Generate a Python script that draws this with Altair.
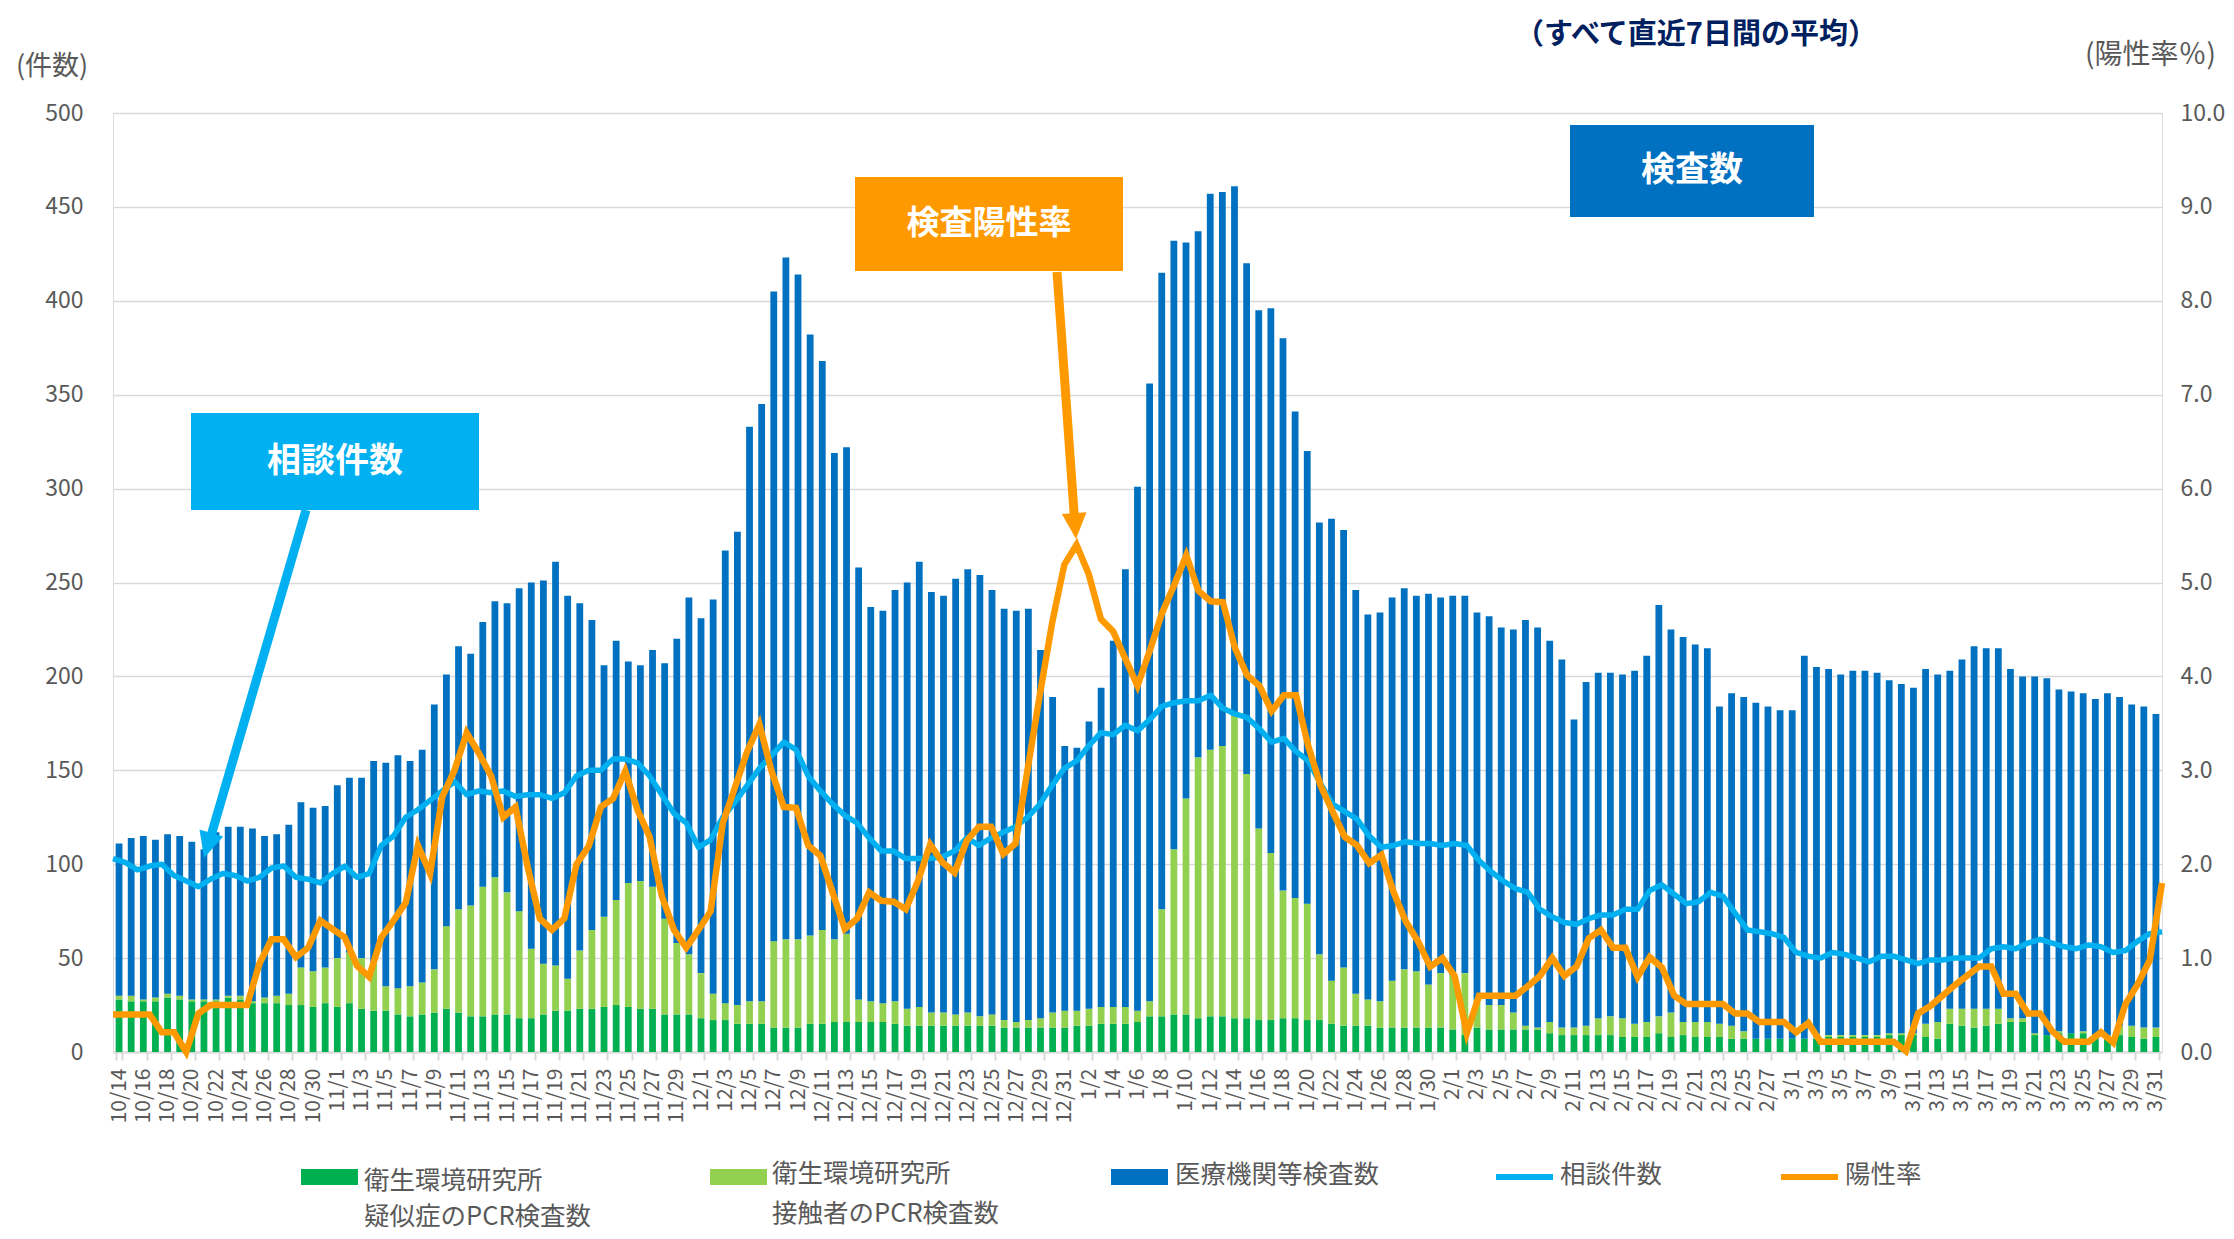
import altair as alt
import pandas as pd

FONT = "Noto Sans CJK JP"

# ---- categories (daily, 2020-10-14 .. 2021-03-31) ----
dates = [f"{d.month}/{d.day}" for d in pd.date_range("2020-10-14", "2021-03-31")]
tick_dates = dates[::2]

# ---- bar series (7-day averages, counts) ----
total = [
    111, 114, 115, 113, 116, 115, 112, 108, 117, 120, 120, 119, 115, 116, 121, 133, 130, 131, 142, 146, 146, 155, 154, 158, 155, 161, 185, 201, 216, 212, 229, 240,
    239, 247, 250, 251, 261, 243, 239, 230, 206, 219, 208, 206, 214, 207, 220, 242, 231, 241, 267, 277, 333, 345, 405, 423, 414, 382, 368, 319, 322, 258, 237,
    235, 246, 250, 261, 245, 243, 252, 257, 254, 246, 236, 235, 236, 214, 189, 163, 162, 176, 194, 219, 257, 301, 356, 415, 432, 431, 437, 457, 458, 461, 420,
    395, 396, 380, 341, 320, 282, 284, 278, 246, 233, 234, 242, 247, 243, 244, 242, 243, 243, 234, 232, 226, 225, 230, 226, 219, 209, 177, 197, 202, 202, 201, 203,
    211, 238, 225, 221, 217, 215, 184, 191, 189, 186, 184, 182, 182, 211, 205, 204, 201, 203, 203, 202, 198, 196, 194, 204, 201, 203, 209, 216, 215, 215, 204, 200,
    200, 199, 193, 192, 191, 188, 191, 189, 185, 184, 180,
]
suspected = [
    28, 27, 27, 27, 29, 28, 27, 27, 27, 29, 28, 26, 26, 26, 25, 25, 24, 26, 24, 26, 23, 22, 22, 20, 19, 20, 21, 23, 21, 19, 19, 20,
    20, 18, 18, 20, 22, 22, 23, 23, 24, 25, 24, 23, 23, 20, 20, 20, 18, 17, 17, 15, 15, 15, 13, 13, 13, 15, 15, 16, 16, 16, 16,
    16, 15, 14, 14, 14, 14, 14, 14, 14, 14, 13, 13, 13, 13, 13, 13, 14, 14, 15, 15, 15, 16, 19, 19, 20, 20, 18, 19, 19, 18, 18,
    17, 17, 18, 18, 17, 17, 15, 14, 14, 14, 13, 13, 13, 13, 13, 13, 12, 9, 13, 12, 12, 12, 12, 12, 10, 9, 9, 9, 9, 9, 8, 8,
    8, 10, 8, 9, 8, 8, 8, 7, 7, 7, 7, 7, 7, 7, 7, 8, 8, 8, 8, 8, 9, 9, 9, 8, 7, 15, 14, 13, 14, 15, 16, 16,
    9, 9, 10, 10, 10, 8, 8, 9, 8, 7, 8,
]
contact = [
    2, 3, 1, 2, 2, 2, 1, 1, 1, 1, 2, 1, 3, 4, 6, 20, 19, 19, 26, 27, 27, 26, 13, 14, 16, 17, 23, 44, 55, 59, 69, 73,
    65, 57, 37, 27, 24, 17, 31, 42, 48, 56, 66, 68, 65, 51, 38, 32, 24, 14, 9, 10, 12, 12, 46, 47, 47, 47, 50, 44, 47, 12, 11,
    10, 12, 9, 10, 7, 7, 6, 7, 5, 6, 4, 3, 4, 5, 8, 9, 8, 9, 9, 9, 9, 6, 8, 57, 88, 115, 139, 142, 144, 161, 130,
    102, 89, 68, 64, 62, 35, 23, 31, 17, 14, 14, 25, 31, 30, 23, 29, 29, 33, 15, 13, 13, 9, 2, 1, 6, 4, 4, 5, 9, 10, 10, 7,
    8, 9, 13, 7, 8, 8, 7, 7, 4, 0, 0, 0, 0, 0, 1, 1, 1, 1, 1, 1, 1, 1, 1, 7, 9, 8, 9, 10, 9, 8, 2, 2,
    1, 0, 1, 0, 1, 1, 1, 5, 6, 6, 5,
]
# ---- line series ----
consult = [
    103, 101, 97, 99, 100, 94, 91, 88, 92, 95, 94, 91, 93, 98, 99, 93, 92, 90, 95, 99, 93, 95, 110, 115, 125, 129, 134, 139, 144, 137, 139, 138,
    139, 136, 137, 137, 135, 138, 147, 150, 150, 156, 156, 154, 147, 137, 127, 122, 109, 113, 125, 133, 142, 151, 158, 165, 161, 147, 139, 132, 126, 122, 114,
    107, 107, 103, 103, 103, 104, 107, 114, 110, 114, 117, 120, 125, 132, 142, 151, 155, 163, 170, 169, 174, 171, 177, 184, 186, 187, 187, 190, 183, 180, 178,
    172, 165, 167, 160, 155, 143, 132, 128, 124, 115, 109, 110, 112, 111, 111, 110, 111, 110, 102, 96, 91, 87, 85, 76, 72, 69, 68, 71, 73, 73, 76, 76,
    86, 89, 84, 79, 80, 85, 83, 74, 65, 64, 63, 61, 53, 51, 50, 53, 52, 50, 48, 51, 51, 49, 47, 49, 49, 50, 50, 50, 55, 56,
    55, 58, 60, 58, 56, 55, 57, 56, 53, 54, 59, 63, 64,
]
rate = [
    0.40, 0.40, 0.40, 0.40, 0.21, 0.21, 0.00, 0.41, 0.50, 0.50, 0.50, 0.50, 0.94, 1.20, 1.20, 1.01, 1.11, 1.40, 1.31, 1.22, 0.92, 0.80, 1.22, 1.40, 1.59, 2.20, 1.90, 2.72, 3.00, 3.40, 3.18, 2.94,
    2.50, 2.61, 1.97, 1.42, 1.30, 1.42, 2.00, 2.19, 2.61, 2.70, 2.99, 2.58, 2.29, 1.66, 1.30, 1.11, 1.30, 1.50, 2.44, 2.82, 3.20, 3.49, 2.99, 2.61, 2.60, 2.20, 2.09, 1.70, 1.31, 1.42, 1.70,
    1.61, 1.60, 1.52, 1.82, 2.21, 2.02, 1.91, 2.25, 2.40, 2.40, 2.11, 2.22, 3.02, 3.81, 4.57, 5.19, 5.40, 5.09, 4.61, 4.48, 4.19, 3.90, 4.27, 4.67, 4.97, 5.29, 4.91, 4.80, 4.79, 4.30, 4.01,
    3.90, 3.63, 3.80, 3.80, 3.26, 2.84, 2.56, 2.29, 2.20, 2.01, 2.10, 1.70, 1.39, 1.18, 0.91, 1.00, 0.81, 0.20, 0.60, 0.60, 0.60, 0.60, 0.70, 0.81, 1.00, 0.81, 0.91, 1.21, 1.30, 1.11, 1.11, 0.80,
    1.01, 0.90, 0.60, 0.51, 0.51, 0.51, 0.51, 0.41, 0.41, 0.32, 0.32, 0.32, 0.21, 0.31, 0.11, 0.11, 0.11, 0.11, 0.11, 0.11, 0.11, 0.01, 0.41, 0.49, 0.60,
    0.71, 0.81, 0.91, 0.91, 0.62, 0.62, 0.41, 0.41, 0.22, 0.11, 0.11, 0.11, 0.21, 0.10, 0.51, 0.72, 0.98, 1.80,
]

for arr in (total, suspected, contact, consult, rate):
    assert len(arr) == len(dates), len(arr)

series_names = ["衛生環境研究所 疑似症のPCR検査数", "衛生環境研究所 接触者のPCR検査数", "医療機関等検査数"]
series_colors = ["#00B050", "#92D050", "#0070C0"]
C_CONSULT = "#00B0F0"
C_RATE = "#FF9900"
GRAY = "#595959"
GRID = "#D9D9D9"

medical = [t - s - c for t, s, c in zip(total, suspected, contact)]

rows = []
for i, d in enumerate(dates):
    for k, (name, vals) in enumerate(zip(series_names, (suspected, contact, medical))):
        rows.append({"date": d, "series": name, "ord": k, "count": vals[i]})
bars_df = pd.DataFrame(rows)
line_df = pd.DataFrame({"idx": list(range(len(dates))), "date": dates, "consult": consult, "rate": rate})

W, H = 2049, 939

bars = alt.Chart(bars_df).mark_bar().encode(
    x=alt.X("date:N", sort=dates,
            scale=alt.Scale(paddingInner=0.44, paddingOuter=0.22),
            axis=alt.Axis(values=tick_dates, labelAngle=270, labelFontSize=21, labelColor=GRAY,
                          labelFont=FONT, labelPadding=8, tickSize=8, tickColor=GRID, tickWidth=2,
                          tickBand="extent", domainColor=GRID, domainWidth=2, grid=False,
                          title=None, labelOverlap=False)),
    y=alt.Y("count:Q", stack="zero", scale=alt.Scale(domain=[0, 500], nice=False),
            axis=alt.Axis(values=list(range(0, 501, 50)), title=None, grid=True, gridColor=GRID,
                          gridWidth=1.5, domain=False, ticks=False, labelPadding=30,
                          labelFontSize=23, labelColor=GRAY, labelFont=FONT)),
    color=alt.Color("series:N", scale=alt.Scale(domain=series_names, range=series_colors), legend=None),
    order=alt.Order("ord:Q", sort="ascending"),
)

xq = alt.X("idx:Q", scale=alt.Scale(domain=[0, len(dates) - 1], nice=False, zero=False), axis=None)

consult_line = alt.Chart(line_df).mark_line(color=C_CONSULT, strokeWidth=5.5, strokeJoin="round").encode(
    x=xq,
    y=alt.Y("consult:Q", scale=alt.Scale(domain=[0, 500], nice=False), axis=None),
)
rate_line = alt.Chart(line_df).mark_line(color=C_RATE, strokeWidth=6.5, strokeJoin="miter").encode(
    x=xq,
    y=alt.Y("rate:Q", scale=alt.Scale(domain=[0, 10], nice=False),
            axis=alt.Axis(orient="right", values=list(range(0, 11)), format=".1f", title=None,
                          grid=False, domain=False, ticks=False, labelPadding=18,
                          labelFontSize=23, labelColor=GRAY, labelFont=FONT)),
)


def one():
    return alt.Data(values=[{"k": 0}])


def box(x1, x2, y1, y2, color):
    return alt.Chart(one()).mark_rect(color=color).encode(
        x=alt.value(x1), x2=alt.value(x2), y=alt.value(y1), y2=alt.value(y2))


def label(txt, x, y, size, color, weight="normal", align="center"):
    return alt.Chart(one()).mark_text(text=txt, font=FONT, fontSize=size, fontWeight=weight,
                                      color=color, align=align, baseline="middle").encode(
        x=alt.value(x), y=alt.value(y))


def shaft(x1, y1, x2, y2, color, w=9):
    return alt.Chart(one()).mark_rule(color=color, strokeWidth=w, strokeCap="butt").encode(
        x=alt.value(x1), y=alt.value(y1), x2=alt.value(x2), y2=alt.value(y2))


HEAD = "M0,1L0.95,-1L-0.95,-1Z"


def head(x, y, angle, color):
    return alt.Chart(one()).mark_point(shape=HEAD, size=676, filled=True, opacity=1,
                                       color=color, angle=angle, strokeWidth=0).encode(
        x=alt.value(x), y=alt.value(y))


annotations = [
    # 相談件数 callout
    shaft(193, 397, 95, 733, C_CONSULT),
    head(94.7, 732.5, 16.3, C_CONSULT),
    box(78, 366, 300, 397, C_CONSULT),
    label("相談件数", 222, 349, 34, "white", "bold"),
    # 検査陽性率 callout
    shaft(944, 159, 962, 413, C_RATE),
    head(962.1, 413, 355.9, C_RATE),
    box(742, 1010, 64, 158, C_RATE),
    label("検査陽性率", 876, 111, 33, "white", "bold"),
    # 検査数 callout
    box(1457, 1701, 12, 104, "#0070C0"),
    label("検査数", 1579, 58, 34, "white", "bold"),
    # titles
    label("（すべて直近7日間の平均）", 1583, -78, 29, "#002060", "bold"),
    label("(件数)", -61, -46, 27, GRAY),
    label("(陽性率％)", 2103, -57, 28, GRAY, align="right"),
]

LF = 25.5
legend = [
    box(188, 245, 1056, 1072, series_colors[0]),
    label("衛生環境研究所", 251, 1068, LF, GRAY, align="left"),
    label("疑似症のPCR検査数", 251, 1104, LF, GRAY, align="left"),
    box(597, 654, 1056, 1072, series_colors[1]),
    label("衛生環境研究所", 659, 1061, LF, GRAY, align="left"),
    label("接触者のPCR検査数", 659, 1101, LF, GRAY, align="left"),
    box(998, 1055, 1056, 1072, series_colors[2]),
    label("医療機関等検査数", 1062, 1062, LF, GRAY, align="left"),
    shaft(1383, 1064, 1440, 1064, C_CONSULT, 6),
    label("相談件数", 1447, 1062, LF, GRAY, align="left"),
    shaft(1668, 1064, 1725, 1064, C_RATE, 6),
    label("陽性率", 1732, 1062, LF, GRAY, align="left"),
]

chart = alt.layer(bars, consult_line, rate_line, *annotations, *legend).resolve_scale(
    x="independent", y="independent"
).properties(
    width=W, height=H,
    padding={"left": 105, "top": 105, "right": 64, "bottom": 179},
    autosize=alt.AutoSizeParams(type="none"),
).configure_view(stroke=None).configure(font=FONT, background="white")

chart.save("out.html", embed_options={"renderer": "svg", "actions": False})
